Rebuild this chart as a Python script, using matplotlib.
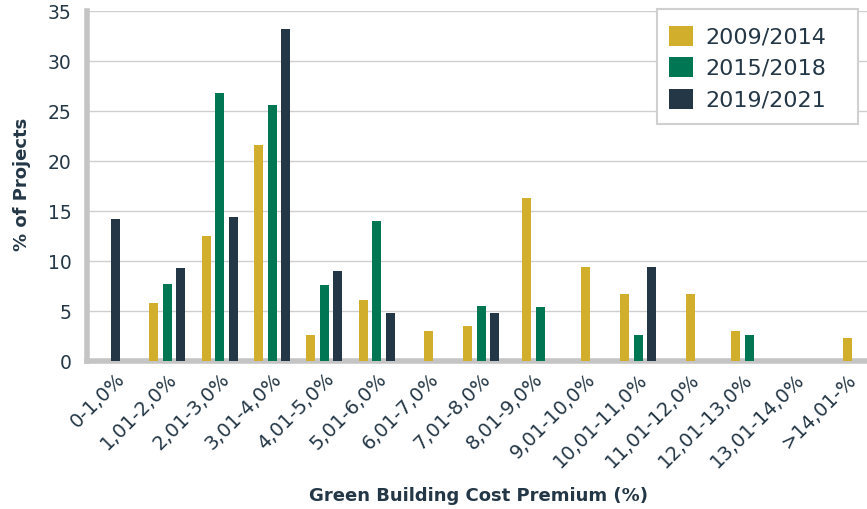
import matplotlib
matplotlib.use("Agg")
import matplotlib.pyplot as plt
import matplotlib.transforms as mtransforms
from matplotlib.patches import Patch, Rectangle
import numpy as np

# Cost premium bins
categories = ["0-1,0%", "1,01-2,0%", "2,01-3,0%", "3,01-4,0%", "4,01-5,0%",
              "5,01-6,0%", "6,01-7,0%", "7,01-8,0%", "8,01-9,0%", "9,01-10,0%",
              "10,01-11,0%", "11,01-12,0%", "12,01-13,0%", "13,01-14,0%", ">14,01-%"]

# Share of projects per bin (None = no projects in that bin for the period)
s2009_2014 = [None, 5.8, 12.5, 21.6, 2.6, 6.1, 3.0, 3.5, 16.3, 9.4, 6.7, 6.7, 3.0, None, 2.3]
s2015_2018 = [None, 7.7, 26.8, 25.6, 7.6, 14.0, None, 5.5, 5.4, None, 2.6, None, 2.6, None, None]
s2019_2021 = [14.2, 9.3, 14.4, 33.2, 9.0, 4.8, None, 4.8, None, None, 9.4, None, None, None, None]

series_names = ["2009/2014", "2015/2018", "2019/2021"]
series_values = [s2009_2014, s2015_2018, s2019_2021]
colors = ["#D1AE2C", "#007653", "#243746"]
text_color = "#243746"
yticks = [0, 5, 10, 15, 20, 25, 30, 35]

plt.rcParams["font.family"] = ["DejaVu Sans"]

W, H = 867, 509
fig = plt.figure(figsize=(W / 100, H / 100), dpi=100)
ax = fig.add_axes([0.1003, 0.2902, 0.8997, 0.6878])

bar_w = 0.172
step = 0.258
x = np.arange(len(categories))

# Bars within each bin are centred on the bin, using only the periods present
for i in range(len(categories)):
    present = [k for k in range(3) if series_values[k][i] is not None]
    n = len(present)
    for j, k in enumerate(present):
        off = (j - (n - 1) / 2) * step
        ax.bar(x[i] + off, series_values[k][i], width=bar_w, color=colors[k],
               zorder=3)

ax.set_xlim(-0.54, 14.38)
ax.set_ylim(0, 35)
ax.set_yticks(yticks)
ax.set_yticklabels([str(t) for t in yticks], fontsize=13.5, color=text_color)
ax.grid(axis="y", color="#CFCFCF", linewidth=1.0, zorder=0)
ax.set_axisbelow(True)

for side in ["top", "right"]:
    ax.spines[side].set_visible(False)
for side in ["left", "bottom"]:
    ax.spines[side].set_color("#C4C4C4")
    ax.spines[side].set_linewidth(4)
ax.tick_params(axis="both", length=0)
ax.tick_params(axis="y", pad=11)

ax.set_xticks(x)
labels = ax.set_xticklabels(categories, rotation=45, ha="right", va="top",
                            rotation_mode="anchor", fontsize=14, color=text_color)
offset = mtransforms.ScaledTranslation(5 / 100, 0, fig.dpi_scale_trans)
for lab in labels:
    lab.set_transform(lab.get_transform() + offset)
ax.tick_params(axis="x", pad=6)

fig.text(478 / W, 0.0265, "Green Building Cost Premium (%)", fontsize=13,
         fontweight="bold", color=text_color, ha="center", va="center")
fig.text(22.5 / W, 0.6385, "% of Projects", fontsize=13, fontweight="bold",
         color=text_color, ha="center", va="center", rotation=90)

# Legend entries, with a roomy frame drawn around them
handles = [Patch(facecolor=c, edgecolor="none") for c in colors]
leg = fig.legend(handles, series_names, loc="upper left",
                 bbox_to_anchor=(669 / W, 1 - 26 / H), fontsize=16, frameon=False,
                 handlelength=1.08, handleheight=1.0, handletextpad=0.55,
                 labelspacing=0.44, borderpad=0.0, borderaxespad=0.0)
for t in leg.get_texts():
    t.set_color(text_color)
fig.patches.append(Rectangle((657 / W, 1 - 124 / H), 201 / W, 115 / H,
                             transform=fig.transFigure, facecolor="white",
                             edgecolor="#D0D0D0", linewidth=1.5, zorder=0))

fig.savefig("out.png", dpi=100)
